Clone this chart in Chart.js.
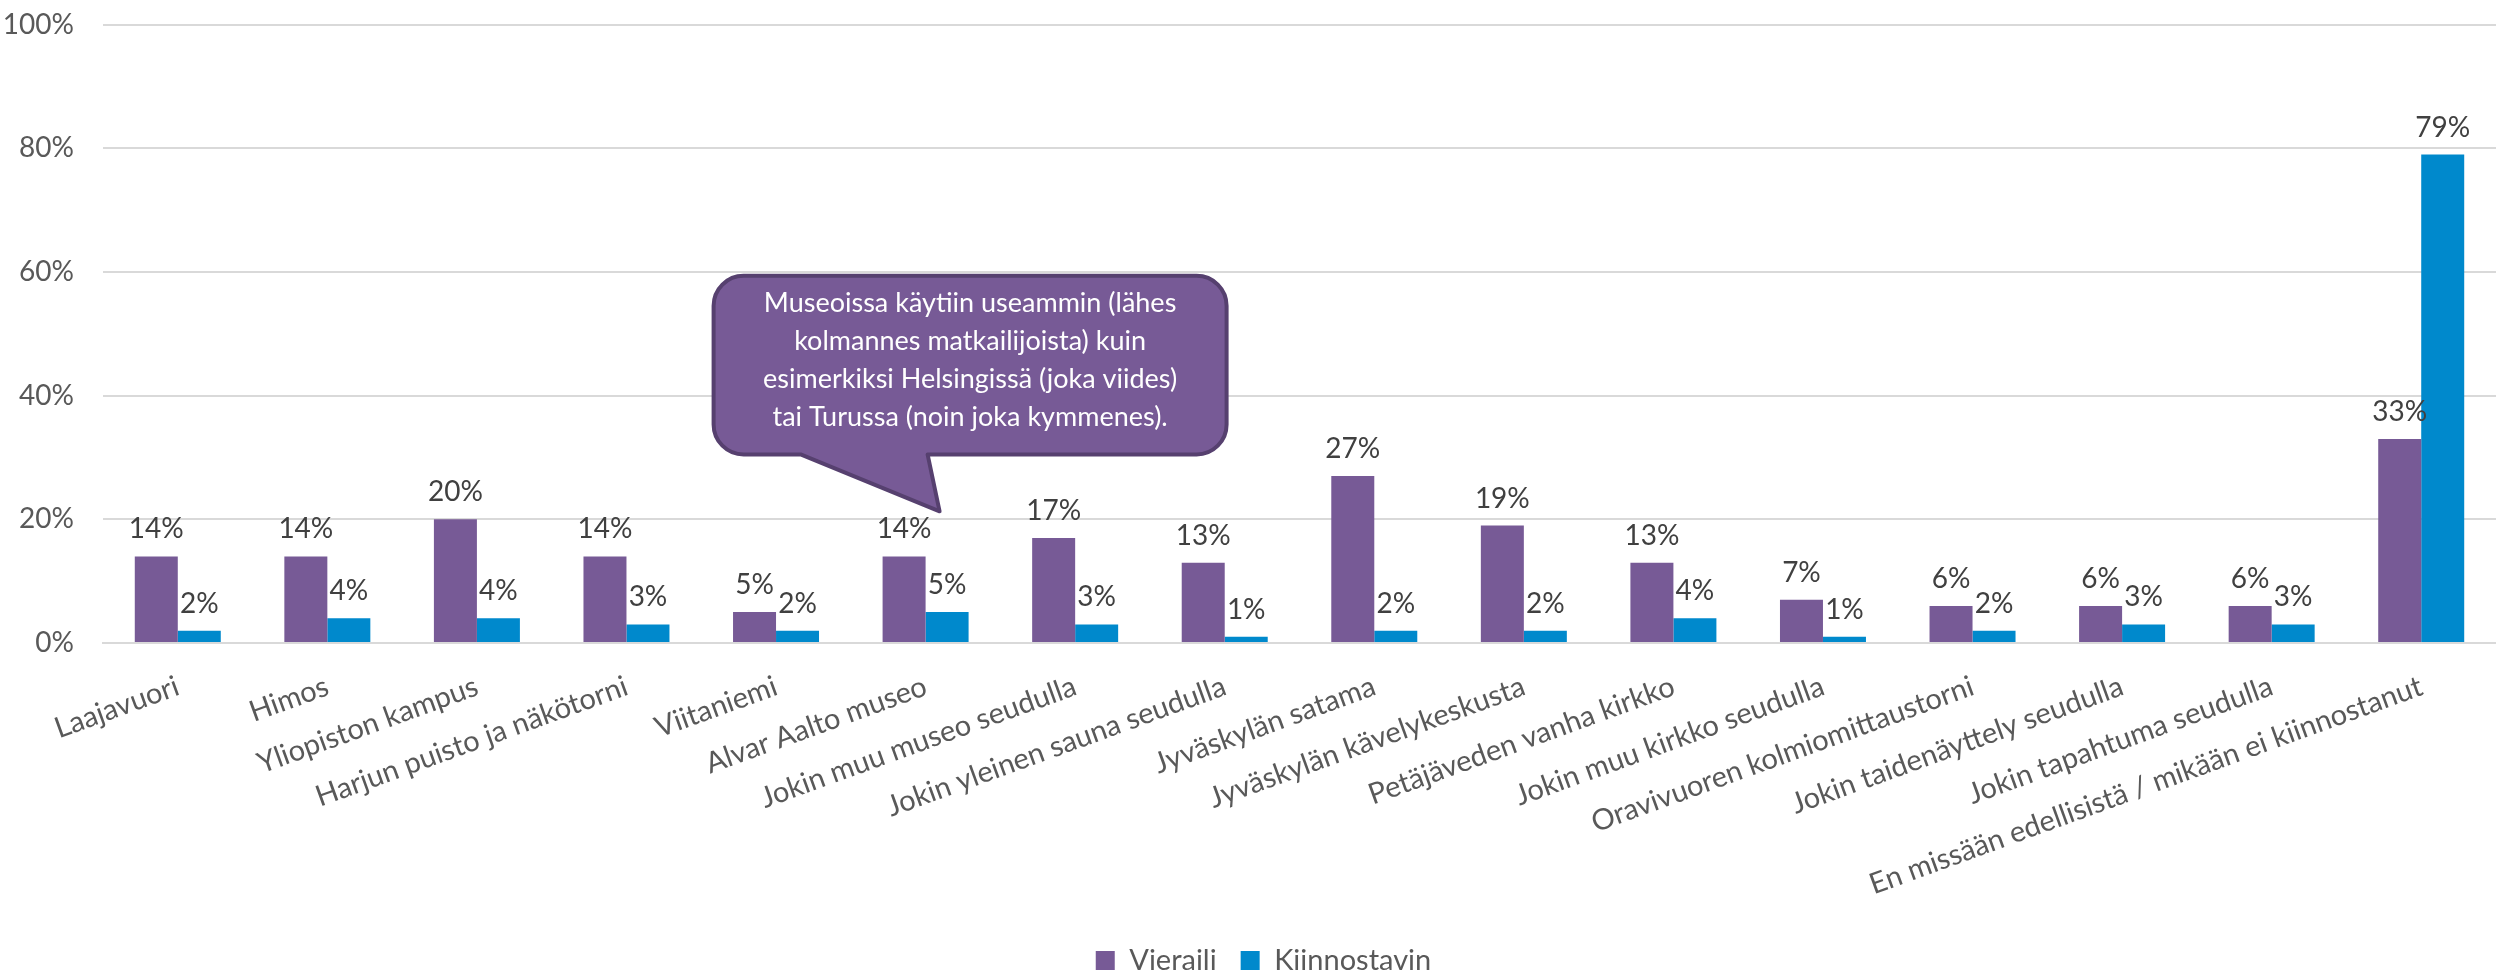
<!DOCTYPE html>
<html>
<head>
  <title>Vieraili / Kiinnostavin</title>
  <script src="https://cdn.jsdelivr.net/npm/chart.js@4.4.0/dist/chart.umd.min.js"></script>
  <style>
    html, body { margin: 0; padding: 0; background: #fff; }
    #wrap { width: 2496px; height: 971px; position: relative; }
  </style>
</head>
<body>
<div id="wrap"><canvas id="chart"></canvas></div>

<script>
  const categories = [
    'Laajavuori', 'Himos', 'Yliopiston kampus', 'Harjun puisto ja näkötorni',
    'Viitaniemi', 'Alvar Aalto museo', 'Jokin muu museo seudulla',
    'Jokin yleinen sauna seudulla', 'Jyväskylän satama', 'Jyväskylän kävelykeskusta',
    'Petäjäveden vanha kirkko', 'Jokin muu kirkko seudulla',
    'Oravivuoren kolmiomittaustorni', 'Jokin taidenäyttely seudulla',
    'Jokin tapahtuma seudulla', 'En missään edellisistä / mikään ei kiinnostanut'
  ];
  const vieraili     = [14, 14, 20, 14, 5, 14, 17, 13, 27, 19, 13, 7, 6, 6, 6, 33];
  const kiinnostavin = [2, 4, 4, 3, 2, 5, 3, 1, 2, 2, 4, 1, 2, 3, 3, 79];
  const yTicks = [0, 20, 40, 60, 80, 100];

  const calloutLines = [
    'Museoissa käytiin useammin (lähes',
    'kolmannes matkailijoista) kuin',
    'esimerkiksi Helsingissä (joka viides)',
    'tai Turussa (noin joka kymmenes).'
  ];
  const calloutCategory = 5;

  const FONT = 'Lato';
  const PAD_BOTTOM = -14;

  // value labels above bars
  const valueLabels = {
    id: 'valueLabels',
    afterDatasetsDraw(chart) {
      const ctx = chart.ctx;
      ctx.save();
      ctx.font = '28px ' + FONT;
      ctx.fillStyle = '#404040';
      ctx.textAlign = 'center';
      ctx.textBaseline = 'middle';
      chart.data.datasets.forEach((ds, i) => {
        chart.getDatasetMeta(i).data.forEach((bar, j) => {
          ctx.fillText(ds.data[j] + '%', bar.x, bar.y - 27);
        });
      });
      ctx.restore();
    }
  };

  // nudge the legend a little to the right, like in the original
  const legendShift = {
    id: 'legendShift',
    afterLayout(chart) {
      chart.legend.left += 12;
      chart.legend.right += 12;
    }
  };

  // speech bubble pointing at the Alvar Aalto museo bar
  const callout = {
    id: 'callout',
    afterDraw(chart) {
      const ctx = chart.ctx;
      const xs = chart.scales.x, ys = chart.scales.y;
      const cx = xs.getPixelForValue(calloutCategory);
      const tipX = cx + 14, tipY = ys.getPixelForValue(21.3);
      const left = cx - 212, right = cx + 301;
      const top = ys.getPixelForValue(59.4), bottom = ys.getPixelForValue(30.5);
      const r = 30;
      ctx.save();
      ctx.beginPath();
      ctx.moveTo(left + r, top);
      ctx.lineTo(right - r, top);
      ctx.arcTo(right, top, right, top + r, r);
      ctx.lineTo(right, bottom - r);
      ctx.arcTo(right, bottom, right - r, bottom, r);
      ctx.lineTo(cx + 2, bottom);
      ctx.lineTo(tipX, tipY);
      ctx.lineTo(cx - 125, bottom);
      ctx.lineTo(left + r, bottom);
      ctx.arcTo(left, bottom, left, bottom - r, r);
      ctx.lineTo(left, top + r);
      ctx.arcTo(left, top, left + r, top, r);
      ctx.closePath();
      ctx.fillStyle = '#775a96';
      ctx.fill();
      ctx.lineWidth = 4;
      ctx.lineJoin = 'round';
      ctx.strokeStyle = '#56406f';
      ctx.stroke();

      ctx.fillStyle = '#ffffff';
      ctx.font = '27px ' + FONT;
      ctx.textAlign = 'center';
      ctx.textBaseline = 'middle';
      const midX = (left + right) / 2;
      calloutLines.forEach((line, k) => {
        ctx.fillText(line, midX, top + 28 + k * 38);
      });
      ctx.restore();
    }
  };

  new Chart(document.getElementById('chart'), {
    type: 'bar',
    data: {
      labels: categories,
      datasets: [
        { label: 'Vieraili', data: vieraili, backgroundColor: '#775a96', borderWidth: 0 },
        { label: 'Kiinnostavin', data: kiinnostavin, backgroundColor: '#0089cc', borderWidth: 0 }
      ]
    },
    options: {
      responsive: true,
      maintainAspectRatio: false,
      animation: false,
      datasets: { bar: { categoryPercentage: 0.575, barPercentage: 1.0 } },
      layout: { padding: { top: 0, right: -7, left: 0, bottom: PAD_BOTTOM } },
      plugins: {
        tooltip: { enabled: false },
        legend: {
          position: 'bottom',
          labels: {
            font: { family: FONT, size: 29 },
            color: '#595959',
            boxWidth: 19,
            boxHeight: 19,
            padding: 24
          }
        }
      },
      scales: {
        x: {
          grid: { display: false },
          border: { color: '#d9d9d9', width: 2 },
          ticks: {
            autoSkip: false,
            maxRotation: 20,
            minRotation: 20,
            font: { family: FONT, size: 29 },
            color: '#595959',
            padding: 18
          },
          afterFit(scale) {
            const c = scale.chart;
            scale.height = c.height - PAD_BOTTOM - 643 - c.legend.height;
          }
        },
        y: {
          min: 0,
          max: 100,
          afterBuildTicks(scale) {
            scale.ticks = yTicks.map(v => ({ value: v }));
          },
          grid: {
            color: '#d9d9d9',
            lineWidth: 2,
            drawTicks: true,
            tickLength: 21,
            tickColor: 'transparent'
          },
          border: { display: false },
          ticks: {
            font: { family: FONT, size: 28 },
            color: '#595959',
            padding: 8,
            callback: v => v + '%'
          },
          afterFit(scale) {
            scale.width = 103;
          }
        }
      }
    },
    plugins: [valueLabels, legendShift, callout]
  });
</script>
</body>
</html>
